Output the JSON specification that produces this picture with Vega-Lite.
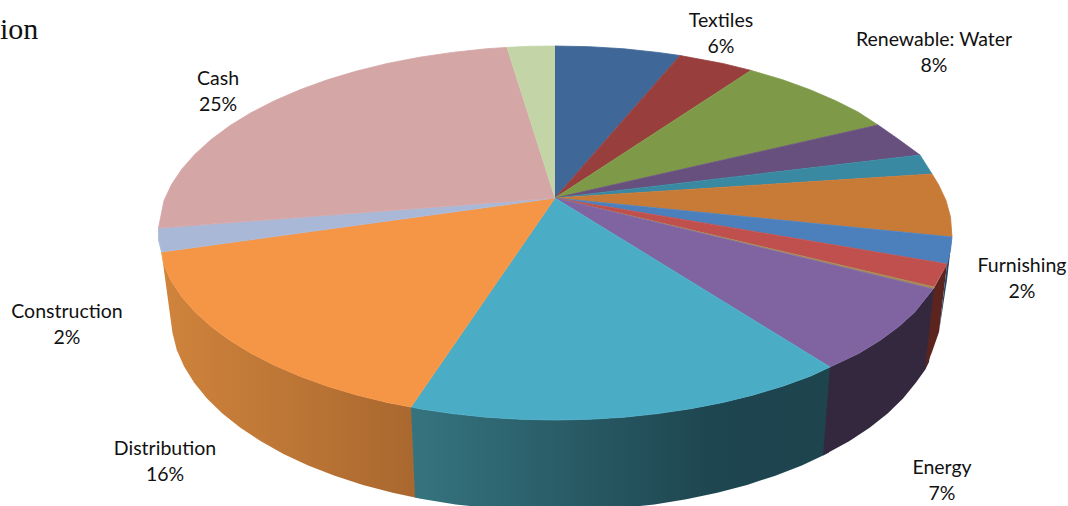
{"$schema":"https://vega.github.io/schema/vega-lite/v6.json","width":1068,"height":506,"padding":0,"autosize":{"type":"none"},"background":"white","config":{"view":{"stroke":null}},
"datasets":{
"walls":[
{"slice":"orange wall","ord":1,"x":161.5,"y":252},{"slice":"orange wall","ord":2,"x":164,"y":265.5},{"slice":"orange wall","ord":3,"x":171.5,"y":281.4},{"slice":"orange wall","ord":4,"x":181.9,"y":297},{"slice":"orange wall","ord":5,"x":195.2,"y":312},{"slice":"orange wall","ord":6,"x":211.2,"y":326.5},{"slice":"orange wall","ord":7,"x":229.8,"y":340.3},{"slice":"orange wall","ord":8,"x":250.9,"y":353.2},{"slice":"orange wall","ord":9,"x":274.3,"y":365.2},{"slice":"orange wall","ord":10,"x":299.8,"y":376.2},{"slice":"orange wall","ord":11,"x":327.3,"y":386.2},{"slice":"orange wall","ord":12,"x":356.5,"y":394.9},{"slice":"orange wall","ord":13,"x":387.2,"y":402.5},{"slice":"orange wall","ord":14,"x":411,"y":407},{"slice":"orange wall","ord":15,"x":418,"y":408},{"slice":"orange wall","ord":16,"x":421,"y":498.6},{"slice":"orange wall","ord":17,"x":415,"y":497.6},{"slice":"orange wall","ord":18,"x":392.7,"y":492.7},{"slice":"orange wall","ord":19,"x":363,"y":484.9},{"slice":"orange wall","ord":20,"x":334.7,"y":475.7},{"slice":"orange wall","ord":21,"x":308.2,"y":465.4},{"slice":"orange wall","ord":22,"x":283.5,"y":453.9},{"slice":"orange wall","ord":23,"x":260.9,"y":441.3},{"slice":"orange wall","ord":24,"x":240.4,"y":427.8},{"slice":"orange wall","ord":25,"x":222.4,"y":413.5},{"slice":"orange wall","ord":26,"x":207,"y":398.4},{"slice":"orange wall","ord":27,"x":194.2,"y":382.7},{"slice":"orange wall","ord":28,"x":184.1,"y":366.5},{"slice":"orange wall","ord":29,"x":176.8,"y":349.9},{"slice":"orange wall","ord":30,"x":172.5,"y":333},
{"slice":"teal wall","ord":1,"x":411,"y":407},{"slice":"teal wall","ord":2,"x":419.2,"y":408.7},{"slice":"teal wall","ord":3,"x":452.3,"y":413.6},{"slice":"teal wall","ord":4,"x":486.1,"y":417.2},{"slice":"teal wall","ord":5,"x":520.4,"y":419.3},{"slice":"teal wall","ord":6,"x":555,"y":420},{"slice":"teal wall","ord":7,"x":589.6,"y":419.3},{"slice":"teal wall","ord":8,"x":623.9,"y":417.2},{"slice":"teal wall","ord":9,"x":657.7,"y":413.6},{"slice":"teal wall","ord":10,"x":690.8,"y":408.7},{"slice":"teal wall","ord":11,"x":722.8,"y":402.5},{"slice":"teal wall","ord":12,"x":753.5,"y":394.9},{"slice":"teal wall","ord":13,"x":782.7,"y":386.2},{"slice":"teal wall","ord":14,"x":810.2,"y":376.2},{"slice":"teal wall","ord":15,"x":830,"y":367},{"slice":"teal wall","ord":16,"x":836,"y":364.5},{"slice":"teal wall","ord":17,"x":829,"y":452.5},{"slice":"teal wall","ord":18,"x":823,"y":455.6},{"slice":"teal wall","ord":19,"x":801.8,"y":465.4},{"slice":"teal wall","ord":20,"x":775.3,"y":475.7},{"slice":"teal wall","ord":21,"x":747,"y":484.9},{"slice":"teal wall","ord":22,"x":717.3,"y":492.7},{"slice":"teal wall","ord":23,"x":686.3,"y":499.2},{"slice":"teal wall","ord":24,"x":654.4,"y":504.4},{"slice":"teal wall","ord":25,"x":621.7,"y":508},{"slice":"teal wall","ord":26,"x":588.5,"y":510.3},{"slice":"teal wall","ord":27,"x":555,"y":511},{"slice":"teal wall","ord":28,"x":521.5,"y":510.3},{"slice":"teal wall","ord":29,"x":488.3,"y":508},{"slice":"teal wall","ord":30,"x":455.6,"y":504.4},{"slice":"teal wall","ord":31,"x":423.7,"y":499.2},{"slice":"teal wall","ord":32,"x":415,"y":497.6},
{"slice":"purple wall","ord":1,"x":830,"y":367},{"slice":"purple wall","ord":2,"x":859.1,"y":353.2},{"slice":"purple wall","ord":3,"x":880.2,"y":340.3},{"slice":"purple wall","ord":4,"x":898.8,"y":326.5},{"slice":"purple wall","ord":5,"x":914.8,"y":312},{"slice":"purple wall","ord":6,"x":934,"y":288},{"slice":"purple wall","ord":7,"x":937,"y":290},{"slice":"purple wall","ord":8,"x":929,"y":362},{"slice":"purple wall","ord":9,"x":925,"y":370},{"slice":"purple wall","ord":10,"x":915.8,"y":382.7},{"slice":"purple wall","ord":11,"x":903,"y":398.4},{"slice":"purple wall","ord":12,"x":887.6,"y":413.5},{"slice":"purple wall","ord":13,"x":869.6,"y":427.8},{"slice":"purple wall","ord":14,"x":849.1,"y":441.3},{"slice":"purple wall","ord":15,"x":823,"y":455.6},
{"slice":"red wall","ord":1,"x":934,"y":288},{"slice":"red wall","ord":2,"x":947,"y":264},{"slice":"red wall","ord":3,"x":939,"y":332},{"slice":"red wall","ord":4,"x":932,"y":352},{"slice":"red wall","ord":5,"x":925,"y":370},
{"slice":"blue wall","ord":1,"x":947,"y":264},{"slice":"blue wall","ord":2,"x":952,"y":237},{"slice":"blue wall","ord":3,"x":947,"y":280},{"slice":"blue wall","ord":4,"x":939,"y":332}
],
"slices":[
{"slice":"Textiles","ord":0,"x":555,"y":198},{"slice":"Textiles","ord":1,"x":555,"y":46},{"slice":"Textiles","ord":2,"x":589.6,"y":46.7},{"slice":"Textiles","ord":3,"x":623.9,"y":48.8},{"slice":"Textiles","ord":4,"x":657.7,"y":52.4},{"slice":"Textiles","ord":5,"x":680,"y":55.5},
{"slice":"Red","ord":0,"x":555,"y":198},{"slice":"Red","ord":1,"x":680,"y":55.5},{"slice":"Red","ord":2,"x":722.8,"y":63.5},{"slice":"Red","ord":3,"x":751,"y":70.4},
{"slice":"Renewable: Water","ord":0,"x":555,"y":198},{"slice":"Renewable: Water","ord":1,"x":751,"y":70.4},{"slice":"Renewable: Water","ord":2,"x":782.7,"y":79.8},{"slice":"Renewable: Water","ord":3,"x":810.2,"y":89.8},{"slice":"Renewable: Water","ord":4,"x":835.7,"y":100.8},{"slice":"Renewable: Water","ord":5,"x":858,"y":112},{"slice":"Renewable: Water","ord":6,"x":878,"y":125},
{"slice":"Purple","ord":0,"x":555,"y":198},{"slice":"Purple","ord":1,"x":878,"y":125},{"slice":"Purple","ord":2,"x":898.8,"y":139.5},{"slice":"Purple","ord":3,"x":920,"y":155},
{"slice":"Teal","ord":0,"x":555,"y":198},{"slice":"Teal","ord":1,"x":920,"y":155},{"slice":"Teal","ord":2,"x":932,"y":174},
{"slice":"Orange","ord":0,"x":555,"y":198},{"slice":"Orange","ord":1,"x":932,"y":174},{"slice":"Orange","ord":2,"x":938.5,"y":184.6},{"slice":"Orange","ord":3,"x":946,"y":200.5},{"slice":"Orange","ord":4,"x":950.5,"y":217},{"slice":"Orange","ord":5,"x":952,"y":237},
{"slice":"Blue","ord":0,"x":555,"y":198},{"slice":"Blue","ord":1,"x":952,"y":237},{"slice":"Blue","ord":2,"x":950.5,"y":250},{"slice":"Blue","ord":3,"x":947,"y":264},
{"slice":"Furnishing","ord":0,"x":555,"y":198},{"slice":"Furnishing","ord":1,"x":947,"y":264},{"slice":"Furnishing","ord":2,"x":934,"y":287},
{"slice":"Sliver","ord":0,"x":555,"y":198},{"slice":"Sliver","ord":1,"x":934,"y":287},{"slice":"Sliver","ord":2,"x":933,"y":289},
{"slice":"Energy","ord":0,"x":555,"y":198},{"slice":"Energy","ord":1,"x":933,"y":289},{"slice":"Energy","ord":2,"x":914.8,"y":312},{"slice":"Energy","ord":3,"x":898.8,"y":326.5},{"slice":"Energy","ord":4,"x":880.2,"y":340.3},{"slice":"Energy","ord":5,"x":859.1,"y":353.2},{"slice":"Energy","ord":6,"x":830,"y":367},
{"slice":"Front","ord":0,"x":555,"y":198},{"slice":"Front","ord":1,"x":830,"y":367},{"slice":"Front","ord":2,"x":810.2,"y":376.2},{"slice":"Front","ord":3,"x":782.7,"y":386.2},{"slice":"Front","ord":4,"x":753.5,"y":394.9},{"slice":"Front","ord":5,"x":722.8,"y":402.5},{"slice":"Front","ord":6,"x":690.8,"y":408.7},{"slice":"Front","ord":7,"x":657.7,"y":413.6},{"slice":"Front","ord":8,"x":623.9,"y":417.2},{"slice":"Front","ord":9,"x":589.6,"y":419.3},{"slice":"Front","ord":10,"x":555,"y":420},{"slice":"Front","ord":11,"x":520.4,"y":419.3},{"slice":"Front","ord":12,"x":486.1,"y":417.2},{"slice":"Front","ord":13,"x":452.3,"y":413.6},{"slice":"Front","ord":14,"x":419.2,"y":408.7},{"slice":"Front","ord":15,"x":411,"y":407},
{"slice":"Distribution","ord":0,"x":555,"y":198},{"slice":"Distribution","ord":1,"x":411,"y":407},{"slice":"Distribution","ord":2,"x":387.2,"y":402.5},{"slice":"Distribution","ord":3,"x":356.5,"y":394.9},{"slice":"Distribution","ord":4,"x":327.3,"y":386.2},{"slice":"Distribution","ord":5,"x":299.8,"y":376.2},{"slice":"Distribution","ord":6,"x":274.3,"y":365.2},{"slice":"Distribution","ord":7,"x":250.9,"y":353.2},{"slice":"Distribution","ord":8,"x":229.8,"y":340.3},{"slice":"Distribution","ord":9,"x":211.2,"y":326.5},{"slice":"Distribution","ord":10,"x":195.2,"y":312},{"slice":"Distribution","ord":11,"x":181.9,"y":297},{"slice":"Distribution","ord":12,"x":171.5,"y":281.4},{"slice":"Distribution","ord":13,"x":164,"y":265.5},{"slice":"Distribution","ord":14,"x":161.5,"y":252},
{"slice":"Construction","ord":0,"x":555,"y":198},{"slice":"Construction","ord":1,"x":161.5,"y":252},{"slice":"Construction","ord":2,"x":158.5,"y":240},{"slice":"Construction","ord":3,"x":158.5,"y":228},
{"slice":"Cash","ord":0,"x":555,"y":198},{"slice":"Cash","ord":1,"x":158.5,"y":228},{"slice":"Cash","ord":2,"x":164,"y":200.5},{"slice":"Cash","ord":3,"x":171.5,"y":184.6},{"slice":"Cash","ord":4,"x":181.9,"y":169},{"slice":"Cash","ord":5,"x":195.2,"y":154},{"slice":"Cash","ord":6,"x":211.2,"y":139.5},{"slice":"Cash","ord":7,"x":229.8,"y":125.7},{"slice":"Cash","ord":8,"x":250.9,"y":112.8},{"slice":"Cash","ord":9,"x":274.3,"y":100.8},{"slice":"Cash","ord":10,"x":299.8,"y":89.8},{"slice":"Cash","ord":11,"x":327.3,"y":79.8},{"slice":"Cash","ord":12,"x":356.5,"y":71.1},{"slice":"Cash","ord":13,"x":387.2,"y":63.5},{"slice":"Cash","ord":14,"x":419.2,"y":57.3},{"slice":"Cash","ord":15,"x":452.3,"y":52.4},{"slice":"Cash","ord":16,"x":486.1,"y":48.8},{"slice":"Cash","ord":17,"x":507,"y":47.4},
{"slice":"Pale green","ord":0,"x":555,"y":198},{"slice":"Pale green","ord":1,"x":507,"y":47.4},{"slice":"Pale green","ord":2,"x":530,"y":46.3},{"slice":"Pale green","ord":3,"x":555,"y":46}
],
"labels":[
{"label":"Textiles\n6%","x":721,"y":21},{"label":"Renewable: Water\n8%","x":934,"y":40},{"label":"Furnishing\n2%","x":1022,"y":266},{"label":"Energy\n7%","x":942,"y":468},{"label":"Distribution\n16%","x":165,"y":449},{"label":"Construction\n2%","x":67,"y":312},{"label":"Cash\n25%","x":218,"y":79}
],
"fragment":[{"label":"ion","x":0,"y":30}]
},
"encoding":{"x":{"field":"x","type":"quantitative","axis":null,"scale":{"domain":[0,1068],"nice":false,"zero":false}},"y":{"field":"y","type":"quantitative","axis":null,"scale":{"domain":[506,0],"nice":false,"zero":false}}},
"layer":[
{"data":{"name":"walls"},"transform":[{"filter":"datum.slice==='orange wall'"}],"mark":{"type":"line","strokeWidth":0,"clip":true,"fill":{"gradient":"linear","x1":0,"y1":0,"x2":1,"y2":0,"stops":[{"offset":0,"color":"#d0843c"},{"offset":1,"color":"#a8672f"}]}},"encoding":{"order":{"field":"ord","type":"quantitative"}}},
{"data":{"name":"walls"},"transform":[{"filter":"datum.slice==='teal wall'"}],"mark":{"type":"line","strokeWidth":0,"clip":true,"fill":{"gradient":"linear","x1":0,"y1":0,"x2":1,"y2":0,"stops":[{"offset":0,"color":"#35747f"},{"offset":0.7,"color":"#1e4650"},{"offset":1,"color":"#1e444e"}]}},"encoding":{"order":{"field":"ord","type":"quantitative"}}},
{"data":{"name":"walls"},"transform":[{"filter":"datum.slice==='purple wall'"}],"mark":{"type":"line","strokeWidth":0,"clip":true,"fill":"#34283f"},"encoding":{"order":{"field":"ord","type":"quantitative"}}},
{"data":{"name":"walls"},"transform":[{"filter":"datum.slice==='red wall'"}],"mark":{"type":"line","strokeWidth":0,"clip":true,"fill":"#5c241f"},"encoding":{"order":{"field":"ord","type":"quantitative"}}},
{"data":{"name":"walls"},"transform":[{"filter":"datum.slice==='blue wall'"}],"mark":{"type":"line","strokeWidth":0,"clip":true,"fill":"#2c4563"},"encoding":{"order":{"field":"ord","type":"quantitative"}}},
{"data":{"name":"slices"},"mark":{"type":"line","filled":true,"strokeWidth":0.8,"clip":true},"encoding":{"order":{"field":"ord","type":"quantitative"},"stroke":{"field":"slice","type":"nominal","legend":null,"scale":{"domain":["Textiles","Red","Renewable: Water","Purple","Teal","Orange","Blue","Furnishing","Sliver","Energy","Front","Distribution","Construction","Cash","Pale green"],"range":["#3f6797","#983f3e","#7e9a48","#68507e","#3a89a2","#c87a37","#4c80bd","#c0504e","#a58a55","#8064a2","#4bacc6","#f59646","#aab8d7","#d5a6a6","#c3d5a6"]}},"color":{"field":"slice","type":"nominal","legend":null,"scale":{"domain":["Textiles","Red","Renewable: Water","Purple","Teal","Orange","Blue","Furnishing","Sliver","Energy","Front","Distribution","Construction","Cash","Pale green"],"range":["#3f6797","#983f3e","#7e9a48","#68507e","#3a89a2","#c87a37","#4c80bd","#c0504e","#a58a55","#8064a2","#4bacc6","#f59646","#aab8d7","#d5a6a6","#c3d5a6"]}}}},
{"data":{"name":"labels"},"mark":{"type":"text","font":"Lato","fontSize":19.5,"align":"center","baseline":"middle","lineBreak":"\n","lineHeight":26,"color":"#111111"},"encoding":{"text":{"field":"label"}}},
{"data":{"name":"fragment"},"mark":{"type":"text","font":"Liberation Serif","fontSize":30,"align":"left","baseline":"middle","color":"#111111"},"encoding":{"text":{"field":"label"}}}
]}
